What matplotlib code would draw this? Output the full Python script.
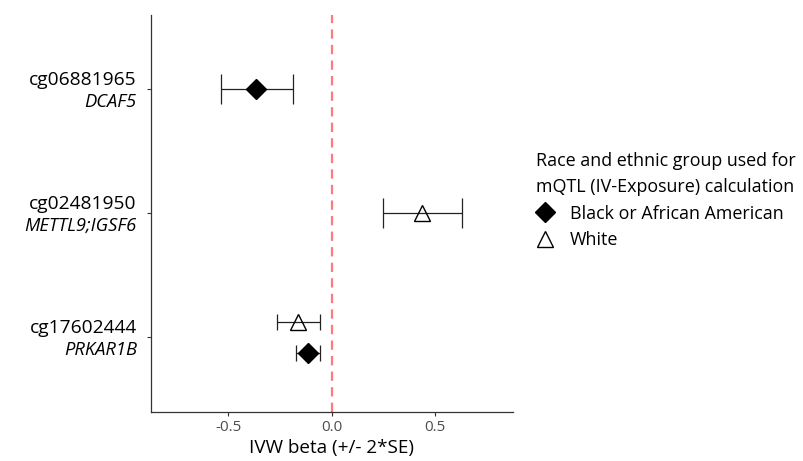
import matplotlib
matplotlib.use("Agg")
import matplotlib.pyplot as plt
from matplotlib.lines import Line2D

plt.rcParams['font.family'] = ['Open Sans', 'DejaVu Sans']

# probes top to bottom, with gene annotation
cpgs = ["cg06881965", "cg02481950", "cg17602444"]
genes = ["DCAF5", "METTL9;IGSF6", "PRKAR1B"]

# one row per estimate
probe = ["cg06881965", "cg02481950", "cg17602444", "cg17602444"]
group = ["Black or African American", "White", "White", "Black or African American"]
beta = [-0.366, 0.439, -0.162, -0.113]
lower = [-0.537, 0.250, -0.265, -0.173]
upper = [-0.186, 0.629, -0.057, -0.055]

groups = ["Black or African American", "White"]
legend_title = "Race and ethnic group used for\nmQTL (IV-Exposure) calculation"

marker_style = {
    "Black or African American": dict(marker="D", ms=9.8, mfc="black", mec="black", mew=1),
    "White": dict(marker="^", ms=11, mfc="none", mec="black", mew=1),
}

fig = plt.figure(figsize=(8.04, 4.61), dpi=100)
ax = fig.add_axes([0.1874, 0.107, 0.4503, 0.8605])

ypos = {cg: len(cpgs) - i for i, cg in enumerate(cpgs)}
counts = {cg: probe.count(cg) for cg in cpgs}

ax.axvline(0, color="#FF7B7B", lw=1.6, ls=(0, (4.2, 2.8)), zorder=1)

for p, g, b, lo, hi in zip(probe, group, beta, lower, upper):
    y = ypos[p]
    cap = 11
    if counts[p] > 1:
        y += 0.123 if g == "White" else -0.123
        cap = 6
    ax.errorbar(b, y, xerr=[[b - lo], [hi - b]], fmt="none", ecolor="#222222",
                elinewidth=0.9, capsize=cap, capthick=0.9, zorder=2)
    ax.plot(b, y, ls="none", zorder=3, **marker_style[g])

ax.set_xlim(-0.876, 0.876)
ax.set_ylim(0.4, 3.6)
ax.set_xticks([-0.5, 0.0, 0.5])
ax.set_xticklabels(["-0.5", "0.0", "0.5"])
ax.set_yticks([ypos[c] for c in cpgs])
ax.set_yticklabels([])

for c, gname in zip(cpgs, genes):
    ax.annotate(c, xy=(0, ypos[c]), xycoords=("axes fraction", "data"),
                xytext=(-10, 7), textcoords="offset points",
                ha="right", va="center", fontsize=13.8, color="black")
    ax.annotate(gname, xy=(0, ypos[c]), xycoords=("axes fraction", "data"),
                xytext=(-10, -9), textcoords="offset points",
                ha="right", va="center", fontsize=13.2, style="italic", color="black")

for s in ["top", "right"]:
    ax.spines[s].set_visible(False)
for s in ["left", "bottom"]:
    ax.spines[s].set_color("#333333")
    ax.spines[s].set_linewidth(0.9)
ax.tick_params(axis="both", color="#333333", length=3, width=0.8)
ax.tick_params(axis="x", labelsize=11, labelcolor="#4D4D4D", pad=3)
ax.set_xlabel("IVW beta (+/- 2*SE)", fontsize=13.6, labelpad=3)

handles = [Line2D([], [], ls="none", **marker_style[g]) for g in groups]
leg = fig.legend(handles, groups, loc="upper left", bbox_to_anchor=(536 / 804, 1 - 152 / 461),
                 frameon=False, title=legend_title, alignment="left", fontsize=12.9,
                 title_fontsize=12.9, borderpad=0, borderaxespad=0, handletextpad=0.9,
                 labelspacing=0.48, handlelength=1.0)
leg.get_title().set_linespacing(1.57)

fig.savefig("out.png", dpi=100)
